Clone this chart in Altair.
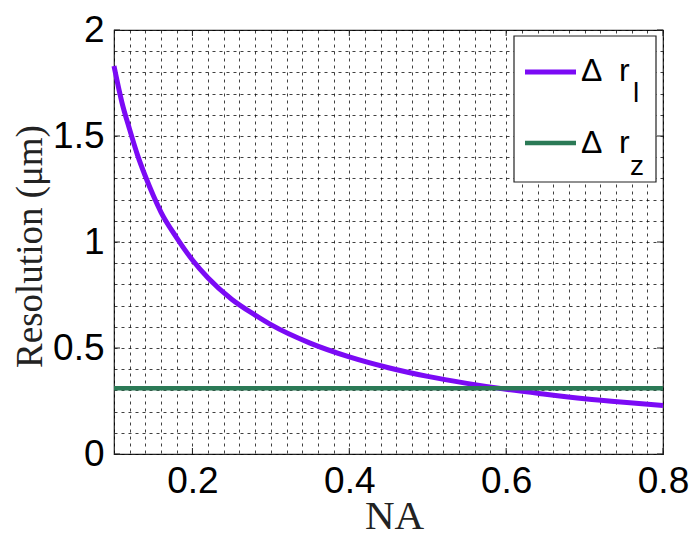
import altair as alt
import pandas as pd

# ---- data ----
na = [0.10, 0.11, 0.12, 0.13, 0.14, 0.15, 0.16, 0.18, 0.20, 0.22, 0.25, 0.28, 0.30,
      0.35, 0.40, 0.45, 0.50, 0.55, 0.60, 0.65, 0.70, 0.75, 0.80]
dr_l = [1.83, 1.66, 1.53, 1.41, 1.31, 1.22, 1.14, 1.02, 0.915, 0.83, 0.73, 0.655, 0.61,
        0.523, 0.458, 0.407, 0.366, 0.333, 0.305, 0.282, 0.261, 0.244, 0.229]
na_z = [0.10, 0.80]
dr_z = [0.31, 0.31]

x_major = [0.2, 0.4, 0.6, 0.8]
y_major = [0, 0.5, 1, 1.5, 2]
x_grid = [round(0.10 + 0.02 * i, 2) for i in range(36)]
y_grid = [round(0.1 * i, 1) for i in range(21)]

PURPLE = "#7b0af5"
GREEN = "#2b7a56"
W, H = 549, 424

df_l = pd.DataFrame({"NA": na, "res": dr_l})
df_z = pd.DataFrame({"NA": na_z, "res": dr_z})
df_xt = pd.DataFrame({"NA": x_major})
df_yt = pd.DataFrame({"res": y_major})
one = pd.DataFrame({"a": [0]})

xscale = alt.Scale(domain=[0.1, 0.8], nice=False, zero=False)
yscale = alt.Scale(domain=[0, 2], nice=False)

xaxis = alt.Axis(
    values=x_grid,
    labelExpr="(abs(datum.value*5 - round(datum.value*5)) < 0.001) ? format(datum.value, '.1f') : ''",
    grid=True, gridDash=[3, 4], gridColor="#000", gridOpacity=0.75, gridWidth=1,
    ticks=False, domain=False, labelFlush=False, labelOverlap=False,
    labelFont="Liberation Sans", labelFontSize=37, labelColor="#000", labelPadding=9,
    title="NA", titleFont="Liberation Serif", titleFontSize=41, titleFontWeight="normal",
    titleColor="#222", titleX=280, titleY=74, titleBaseline="alphabetic", titleAlign="center",
)
yaxis = alt.Axis(
    values=y_grid,
    labelExpr="(abs(datum.value*2 - round(datum.value*2)) < 0.001) ? format(datum.value, '~g') : ''",
    grid=True, gridDash=[3, 4], gridColor="#000", gridOpacity=0.75, gridWidth=1,
    ticks=False, domain=False, labelFlush=False, labelOverlap=False,
    labelFont="Liberation Sans", labelFontSize=37, labelColor="#000", labelPadding=10,
    title="Resolution (μm)", titleFont="Liberation Serif", titleFontSize=37,
    titleFontWeight="normal", titleColor="#222", titleAngle=270,
    titleX=-73, titleY=216, titleBaseline="alphabetic", titleAlign="center",
)

X = alt.X("NA:Q", scale=xscale, axis=xaxis, title="NA")
Y = alt.Y("res:Q", scale=yscale, axis=yaxis, title="Resolution (μm)")

base_l = alt.Chart(df_l).mark_line(color=PURPLE, strokeWidth=5, interpolate="monotone").encode(x=X, y=Y)
line_z = alt.Chart(df_z).mark_line(color=GREEN, strokeWidth=4.5).encode(x=X, y=Y)

# inward ticks on all four sides
tick_style = dict(color="#222", strokeWidth=1)
xt_bot = alt.Chart(df_xt).mark_rule(**tick_style).encode(x=X, y=alt.value(H), y2=alt.value(H - 6))
xt_top = alt.Chart(df_xt).mark_rule(**tick_style).encode(x=X, y=alt.value(0), y2=alt.value(6))
yt_left = alt.Chart(df_yt).mark_rule(**tick_style).encode(y=Y, x=alt.value(0), x2=alt.value(6))
yt_right = alt.Chart(df_yt).mark_rule(**tick_style).encode(y=Y, x=alt.value(W), x2=alt.value(W - 6))

# legend box
leg_box = alt.Chart(one).mark_rect(fill="white", stroke="#222", strokeWidth=1.2).encode(
    x=alt.value(400), x2=alt.value(542), y=alt.value(6), y2=alt.value(152))
leg_l = alt.Chart(one).mark_rule(color=PURPLE, strokeWidth=5).encode(
    x=alt.value(411), x2=alt.value(462), y=alt.value(42))
leg_z = alt.Chart(one).mark_rule(color=GREEN, strokeWidth=4.5).encode(
    x=alt.value(411), x2=alt.value(462), y=alt.value(113))

def txt(s, x, y, size):
    return alt.Chart(pd.DataFrame({"t": [s]})).mark_text(
        align="left", baseline="alphabetic", font="Liberation Sans", fontSize=size, color="#000"
    ).encode(text="t:N", x=alt.value(x), y=alt.value(y))

legend_texts = [
    txt("Δ", 467, 51, 32), txt("r", 505, 51, 32), txt("l", 519, 72, 28),
    txt("Δ", 467, 123, 32), txt("r", 505, 123, 32), txt("z", 516, 145, 28),
]

chart = alt.layer(
    base_l, line_z, xt_bot, xt_top, yt_left, yt_right, leg_box, leg_l, leg_z, *legend_texts
).properties(
    width=W, height=H,
    autosize=alt.AutoSizeParams(type="none"),
    padding={"left": 106, "top": 22, "right": 28, "bottom": 83},
    background="white",
).configure_view(stroke="#222", strokeWidth=1.2)

chart.save("out.html", embed_options={"renderer": "svg", "actions": False})
